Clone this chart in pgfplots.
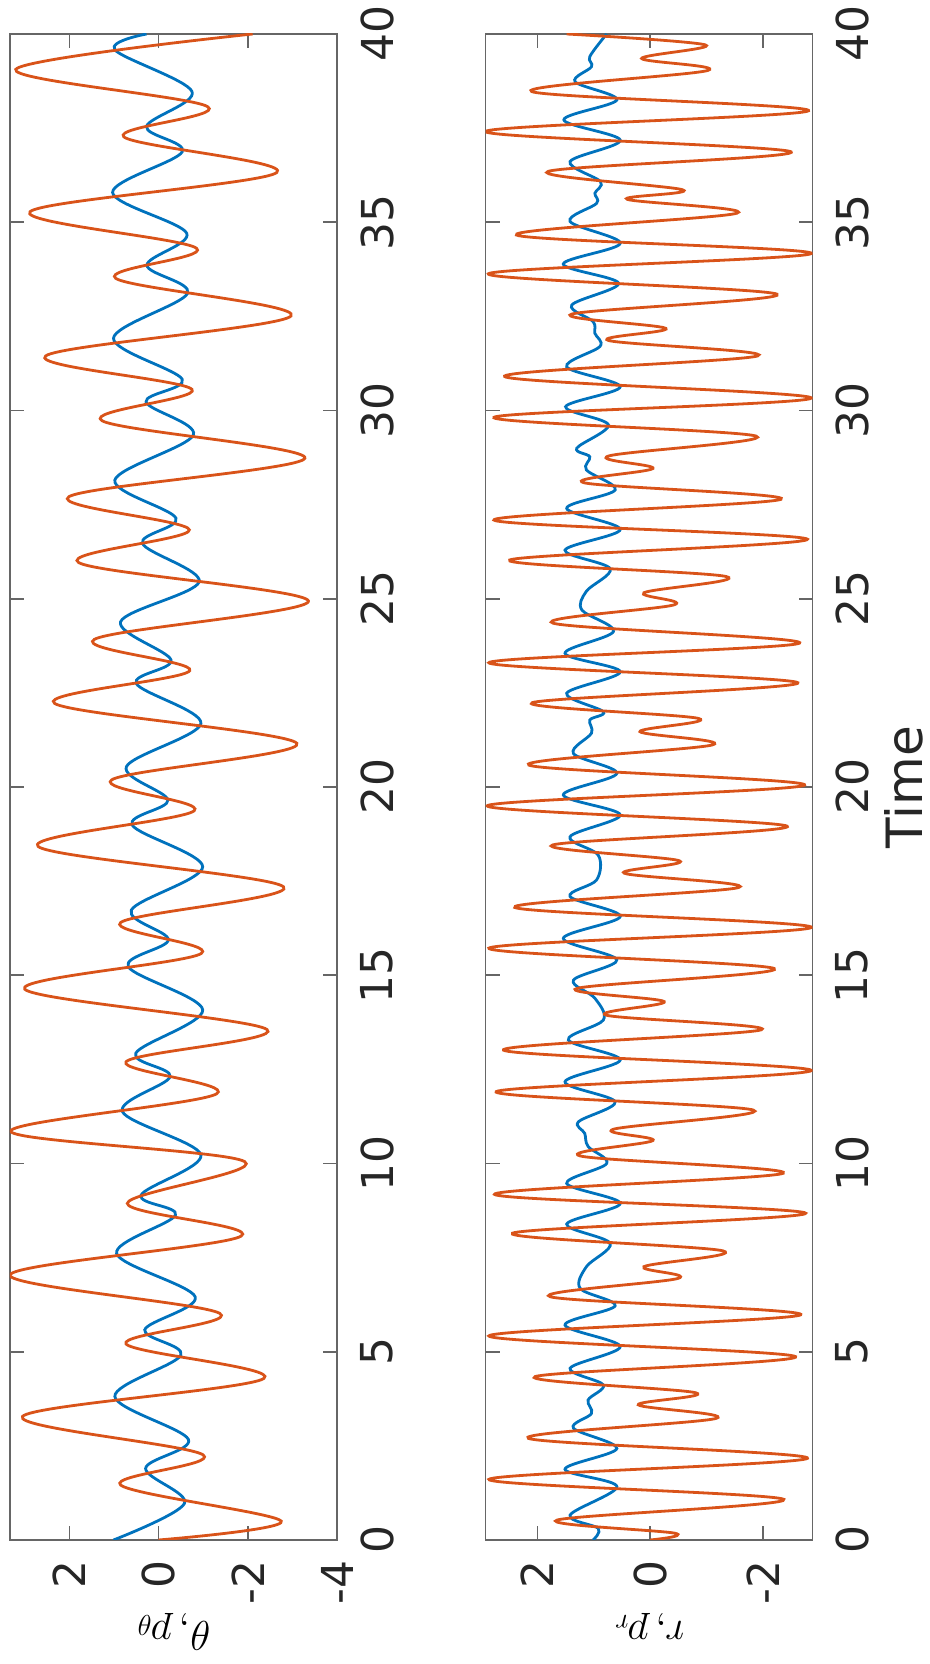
\documentclass[border=0pt]{standalone}
\usepackage{pgfplots}
\usepackage{pgfplotstable}
\pgfplotsset{compat=1.18}
\usepackage{fontspec}
\setmainfont{DejaVu Sans}
\definecolor{mblue}{rgb}{0,0.447,0.741}
\definecolor{morange}{rgb}{0.85,0.325,0.098}

\pgfplotstableread{
t v
0 1.01
0.97 -0.58
1.90 0.29
2.67 -0.67
3.81 0.98
4.91 -0.50
5.58 0.31
6.46 -0.82
7.61 0.94
8.63 -0.38
9.16 0.39
10.23 -0.95
11.38 0.81
12.31 -0.26
12.93 0.51
14.08 -0.99
15.23 0.68
15.94 -0.22
16.73 0.61
17.88 -0.99
18.99 0.59
19.65 -0.21
20.54 0.72
21.69 -0.95
22.75 0.50
23.37 -0.28
24.39 0.85
25.45 -0.91
26.47 0.36
27.14 -0.39
28.15 0.98
29.35 -0.78
30.23 0.28
30.83 -0.53
31.92 1.01
33.11 -0.65
33.86 0.26
34.71 -0.63
35.79 1.03
36.87 -0.53
37.54 0.27
38.47 -0.75
39.58 0.98
40 0.27
}\thetadata

\pgfplotstableread{
t v
0 0
0.50 -2.75
1.46 0.85
2.26 -1.00
3.28 3.05
4.29 -2.36
5.21 0.73
6.02 -1.37
7.04 3.33
8.07 -1.85
8.94 0.70
10.05 -1.93
10.85 3.31
11.85 -1.30
12.70 0.73
13.56 -2.43
14.63 3.00
15.58 -0.96
16.40 0.85
17.35 -2.80
18.42 2.70
19.37 -0.80
20.19 1.05
21.16 -3.10
22.22 2.33
23.09 -0.70
23.92 1.44
24.94 -3.36
25.96 1.79
26.83 -0.69
27.71 2.01
28.73 -3.28
29.73 1.27
30.56 -0.75
31.45 2.53
32.51 -2.97
33.51 0.96
34.31 -0.85
35.28 2.88
36.32 -2.65
37.27 0.78
38.07 -1.10
39.06 3.20
40.0 -2.11
}\ptdata

\pgfplotstableread{
t v
0 1.01
0.31 0.92
0.66 1.42
1.42 0.59
1.88 1.51
2.43 0.59
2.97 1.36
3.36 1.04
3.72 1.10
4.12 0.83
4.56 1.42
5.14 0.53
5.71 1.51
6.22 0.62
6.68 1.24
7.26 1.13
7.88 0.71
8.39 1.48
8.94 0.53
9.47 1.48
10.00 0.77
10.45 1.10
10.80 1.16
11.11 1.27
11.64 0.62
12.17 1.51
12.75 0.53
13.28 1.45
13.81 0.83
14.39 0.98
14.87 1.36
15.41 0.59
15.98 1.54
16.56 0.53
17.09 1.42
17.53 0.95
18.19 0.92
18.68 1.42
19.26 0.53
19.79 1.54
20.36 0.59
20.89 1.36
21.43 1.04
21.78 1.07
22.00 0.83
22.49 1.48
23.06 0.53
23.55 1.51
24.13 0.65
24.70 1.21
25.20 1.13
25.80 0.71
26.29 1.51
26.84 0.53
27.40 1.48
27.89 0.62
28.42 1.13
28.77 1.07
29.00 1.30
29.62 0.74
30.10 1.50
30.63 0.53
31.16 1.48
31.70 0.89
32.05 0.98
32.36 1.01
32.80 1.39
33.38 0.56
33.89 1.54
34.44 0.53
35.02 1.42
35.50 0.95
35.77 0.98
36.08 0.88
36.61 1.42
37.18 0.53
37.72 1.53
38.25 0.59
38.73 1.33
39.13 1.04
39.40 1.07
40.0 0.77
}\rdata

\pgfplotstableread{
t v
0 0
0.18 -0.44
0.53 1.65
1.08 -2.37
1.61 2.86
2.17 -2.79
2.70 2.16
3.23 -1.17
3.59 0.21
3.91 -0.81
4.34 2.04
4.87 -2.58
5.42 2.86
5.98 -2.67
6.46 1.77
6.95 -0.50
7.26 0.11
7.68 -1.29
8.15 2.44
8.68 -2.76
9.18 2.76
9.74 -2.36
10.20 1.24
10.61 -0.05
10.91 0.65
11.42 -1.83
11.91 2.73
12.47 -2.86
13.01 2.60
13.55 -1.97
13.94 0.78
14.30 -0.25
14.65 1.30
15.18 -2.20
15.72 2.86
16.27 -2.86
16.80 2.40
17.33 -1.57
17.71 0.46
18.04 -0.52
18.46 1.73
18.96 -2.43
19.50 2.89
20.05 -2.74
20.58 2.15
21.12 -1.11
21.47 0.18
21.82 -0.86
22.24 2.09
22.77 -2.62
23.30 2.86
23.82 -2.65
24.35 1.72
24.84 -0.43
25.16 0.11
25.59 -1.35
26.03 2.49
26.58 -2.79
27.09 2.77
27.64 -2.32
28.08 1.17
28.46 -0.05
28.79 0.74
29.32 -1.88
29.82 2.77
30.33 -2.86
30.90 2.58
31.45 -1.91
31.86 0.74
32.18 -0.28
32.56 1.39
33.09 -2.25
33.63 2.87
34.17 -2.86
34.66 2.37
35.24 -1.54
35.61 0.41
35.86 -0.58
36.35 1.81
36.87 -2.50
37.41 2.92
37.96 -2.81
38.47 2.10
39.03 -1.02
39.35 0.15
39.71 -0.98
40.0 1.48
}\prdata

\pgfplotsset{
  panel/.style={
    scale only axis, width=163.5pt, height=753pt,
    x dir=reverse, ymin=0, ymax=40,
    ytick={0,5,...,40}, yticklabels={0,5,10,15,20,25,30,35,40},
    minor tick num=0,
    tick align=inside, major tick length=7pt,
    xtick pos=both, ytick pos=both,
    xticklabel pos=lower, yticklabel pos=right,
    axis line style={black!60, line width=0.8pt},
    every tick/.style={black!60, line width=0.8pt},
    ticklabel style={font=\fontsize{22}{26}\selectfont, inner sep=0pt, text=black!85},
    xticklabel style={rotate=90, anchor=east},
    yticklabel style={rotate=90, anchor=north},
    xticklabel shift=10pt, yticklabel shift=11.5pt,
    every axis x label/.style={at={(axis description cs:0.5,0)}, yshift=-36.5pt, rotate=180, anchor=south, inner sep=0pt, font=\fontsize{22}{26}\selectfont},
    every axis y label/.style={at={(ticklabel cs:0.5,7.5pt)}, rotate=90, anchor=north, inner sep=0pt, font=\fontsize{25}{29}\selectfont, text=black!85},
    every axis plot/.append style={line width=1.4pt, smooth, tension=0.55, no markers},
  }
}

\begin{document}
\begin{tikzpicture}
\path[use as bounding box] (0,0) rectangle (465pt,832pt);
\begin{axis}[panel, at={(86.75pt,438.5pt)}, anchor=center,
  xmin=-4, xmax=3.33, xtick={-4,-2,0,2}, xticklabels={-4,-2,0,2},
  xlabel={$\theta, p_\theta$}]
\addplot[mblue] table[x=v, y=t] {\thetadata};
\addplot[morange] table[x=v, y=t] {\ptdata};
\end{axis}
\begin{axis}[panel, at={(324.5pt,438.5pt)}, anchor=center,
  xmin=-2.88, xmax=2.92, xtick={-2,0,2}, xticklabels={-2,0,2},
  xlabel={$r, p_r$}, ylabel={Time}]
\addplot[mblue] table[x=v, y=t] {\rdata};
\addplot[morange] table[x=v, y=t] {\prdata};
\end{axis}
\end{tikzpicture}
\end{document}
